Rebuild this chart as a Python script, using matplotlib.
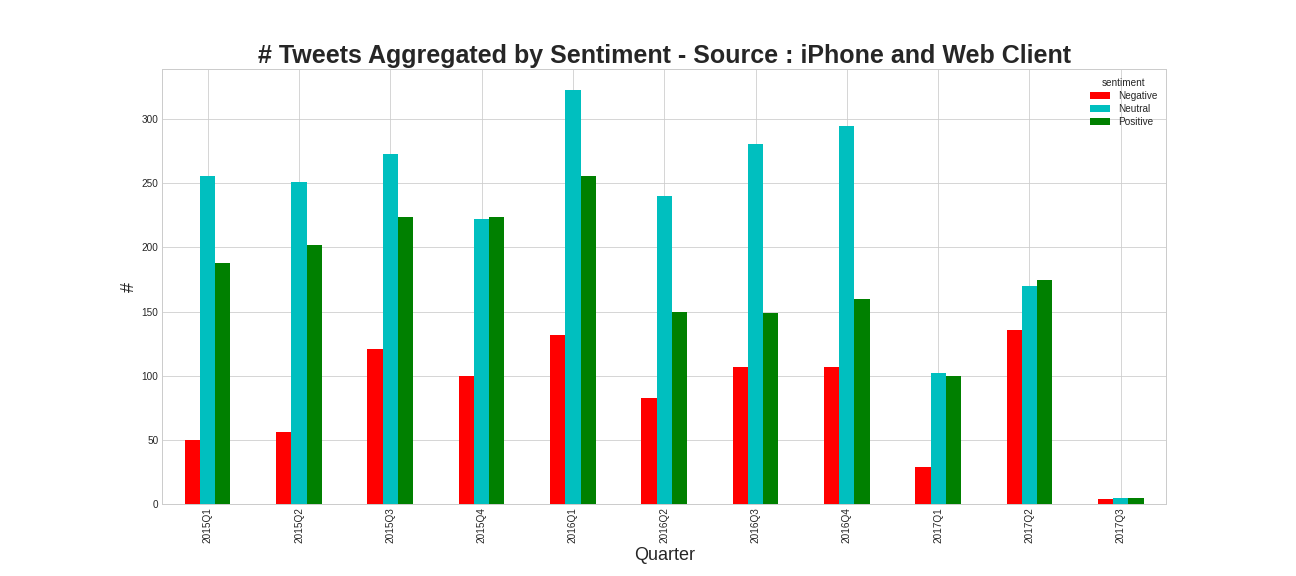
import matplotlib.pyplot as plt
import numpy as np

quarters = ['2015Q1', '2015Q2', '2015Q3', '2015Q4', '2016Q1', '2016Q2',
            '2016Q3', '2016Q4', '2017Q1', '2017Q2', '2017Q3']
negative = [50, 56, 121, 100, 132, 83, 107, 107, 29, 136, 4]
neutral = [256, 251, 273, 222, 323, 240, 281, 295, 102, 170, 5]
positive = [188, 202, 224, 224, 256, 150, 149, 160, 100, 175, 5]

plt.style.use('seaborn-v0_8-whitegrid')
fig, ax = plt.subplots(figsize=(18, 8), dpi=72)
fig.subplots_adjust(left=0.125, right=0.9, top=0.88, bottom=0.125)

x = np.arange(len(quarters))
w = 0.5 / 3
ax.bar(x - w, negative, w, color='red', label='Negative')
ax.bar(x, neutral, w, color='c', label='Neutral')
ax.bar(x + w, positive, w, color='green', label='Positive')

ax.set_xticks(x)
ax.set_xticklabels(quarters, rotation=90)
ax.set_xlim(-0.5, len(quarters) - 0.5)
ax.set_ylim(0, 339)
for s in ax.spines.values():
    s.set_visible(True)
    s.set_color('#cccccc')
ax.set_xlabel('Quarter', fontsize=18)
ax.set_ylabel('#', fontsize=18)
ax.set_title('# Tweets Aggregated by Sentiment - Source : iPhone and Web Client',
             fontsize=25, fontweight='bold')
ax.legend(title='sentiment', loc='upper right', labelspacing=0.3)

plt.savefig('out.png', dpi=72)
